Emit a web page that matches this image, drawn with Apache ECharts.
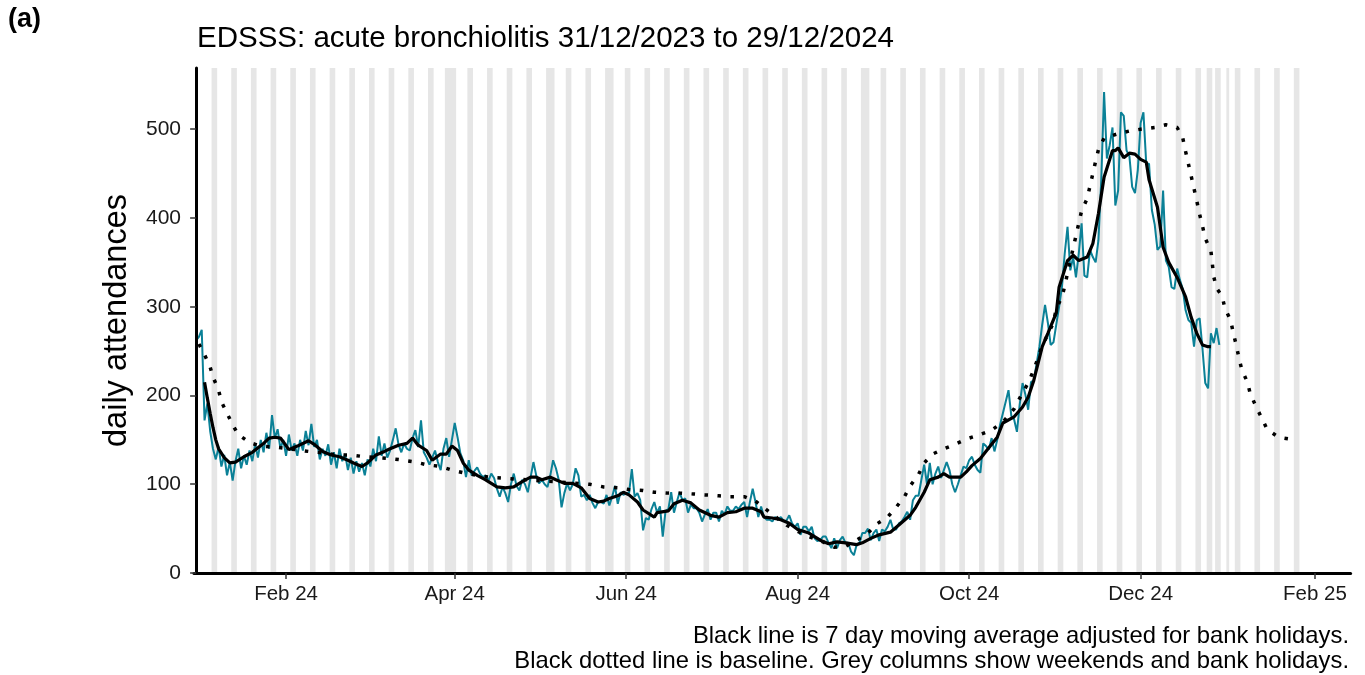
<!DOCTYPE html>
<html>
<head>
<meta charset="utf-8">
<title>EDSSS acute bronchiolitis</title>
<script src="https://cdn.jsdelivr.net/npm/echarts@6/dist/echarts.min.js"></script>
<style>
  html, body { margin: 0; padding: 0; background: #fff; }
  #chart { width: 1365px; height: 675px; }
</style>
</head>
<body>
<div id="chart"></div>
<script>
// x is a day number: day 0 = 31/12/2023 (a Sunday)
const tickDays = [32, 92, 153, 214, 275, 336, 398];
const tickLabels = ['Feb 24', 'Apr 24', 'Jun 24', 'Aug 24', 'Oct 24', 'Dec 24', 'Feb 25'];
const yTicks = [0, 100, 200, 300, 400, 500];
const bankHolidays = [89, 92, 127, 148, 239, 360, 361, 367];

// daily attendances, 31/12/2023 .. 29/12/2024 (one row per week)
const daily = [
  262, 266, 274, 172, 191, 160, 140,
  128, 142, 120, 133, 110, 125, 104,
  126, 140, 118, 132, 122, 138, 126,
  145, 130, 150, 136, 158, 140, 178,
  152, 162, 140, 150, 132, 156, 138,
  146, 132, 150, 138, 160, 144, 168,
  142, 150, 128, 140, 132, 145, 122,
  136, 118, 140, 126, 134, 116, 130,
  112, 126, 114, 124, 110, 128, 120,
  140, 126, 154, 132, 146, 130, 138,
  150, 163, 145, 136, 146, 140, 138,
  152, 161, 142, 172, 136, 130, 122,
  130, 138, 125, 116, 140, 152, 131,
  150, 169, 153, 135, 127, 108, 127,
  110, 115, 119, 112, 108, 110, 104,
  112, 107, 95, 86, 97, 90, 80,
  100, 112, 98, 93, 105, 100, 91,
  108, 125, 110, 101, 105, 100, 97,
  110, 127, 118, 105, 74, 90, 101,
  93, 100, 118, 110, 86, 88, 82,
  88, 79, 73, 80, 80, 78, 88,
  76, 86, 98, 78, 91, 88, 90,
  90, 117, 86, 90, 82, 48, 62,
  60, 72, 80, 68, 75, 41, 70,
  72, 91, 68, 80, 91, 82, 84,
  68, 77, 73, 73, 68, 58, 66,
  72, 60, 68, 68, 58, 70, 66,
  75, 70, 70, 75, 72, 77, 80,
  63, 80, 95, 80, 63, 75, 63,
  60, 60, 58, 63, 60, 63, 59,
  59, 65, 56, 52, 56, 43, 52,
  52, 47, 52, 39, 36, 37, 41,
  41, 34, 28, 39, 28, 37, 41,
  34, 34, 24, 20, 32, 34, 45,
  45, 50, 37, 45, 49, 36, 49,
  47, 52, 60, 49, 49, 56, 58,
  63, 69, 60, 82, 87, 87, 105,
  122, 100, 124, 100, 112, 120, 107,
  116, 125, 116, 100, 91, 100, 110,
  120, 118, 127, 131, 122, 116, 113,
  146, 143, 139, 152, 137, 150, 167,
  180, 193, 206, 177, 173, 159, 190,
  214, 201, 184, 215, 217, 236, 255,
  280, 302, 282, 257, 260, 280, 300,
  322, 360, 390, 341, 356, 333, 360,
  394, 335, 333, 364, 356, 350, 375,
  443, 542, 467, 482, 502, 414, 431,
  519, 515, 476, 470, 435, 428, 454,
  507, 519, 461, 461, 409, 393, 364,
  368, 431, 352, 345, 322, 320, 343,
  330, 320, 296, 285, 282, 255, 285,
  287, 253, 214, 208, 270, 259, 276,
  257
];

// 7 day moving average, [day, value]
const movingAvg = [
  [3, 215], [4, 197], [5, 180], [6, 164], [7, 150], [8, 140], [10, 130], [12, 124],
  [14, 125], [17, 131], [20, 136], [22, 141], [24, 146], [26, 152], [28, 153], [30, 152],
  [31, 148], [33, 139], [36, 143], [40, 149], [42, 145], [45, 137], [48, 133], [51, 131],
  [54, 127], [56, 124], [59, 120], [61, 124], [64, 133], [67, 137], [69, 140], [72, 144],
  [75, 146], [77, 152], [79, 144], [82, 138], [84, 127], [87, 134], [89, 134], [91, 143],
  [93, 138], [95, 124], [97, 116], [100, 110], [103, 105], [107, 97], [110, 96], [113, 97],
  [116, 103], [119, 108], [121, 108], [123, 105], [126, 108], [128, 105], [131, 101], [134, 101],
  [137, 96], [140, 84], [143, 80], [145, 81], [147, 84], [150, 87], [152, 91], [154, 88],
  [157, 80], [159, 71], [163, 63], [164, 68], [168, 70], [170, 78], [173, 82], [176, 79],
  [179, 71], [183, 65], [186, 63], [189, 68], [192, 69], [195, 73], [198, 73], [201, 69],
  [202, 63], [205, 62], [208, 60], [211, 56], [214, 49], [218, 45], [222, 37], [225, 33],
  [228, 35], [231, 34], [235, 32], [237, 34], [240, 39], [243, 43], [247, 46], [250, 54],
  [254, 65], [256, 74], [259, 91], [261, 105], [264, 108], [266, 112], [268, 108], [272, 108],
  [274, 114], [276, 121], [279, 129], [282, 141], [285, 153], [287, 169], [291, 176], [294, 187],
  [296, 198], [298, 217], [301, 255], [303, 270], [306, 293], [307, 322], [310, 352], [312, 358],
  [314, 352], [317, 356], [319, 371], [321, 405], [323, 446], [326, 476], [327, 476], [328, 479],
  [330, 468], [332, 473], [334, 472], [336, 466], [338, 463], [339, 443], [342, 412], [344, 367],
  [346, 350], [349, 333], [352, 311], [354, 288], [356, 270], [358, 257], [360, 255], [361, 255]
];

// baseline, [day, value]
const baseline = [
  [1, 258], [3, 246], [5, 232], [6, 221], [8, 206], [9, 193], [11, 180], [13, 167],
  [15, 156], [19, 147], [23, 143], [28, 142], [33, 140], [40, 137], [46, 135], [50, 133],
  [55, 133], [60, 131], [69, 129], [74, 127], [78, 125], [82, 122], [87, 120], [91, 116],
  [95, 113], [100, 110], [104, 108], [109, 107], [113, 106], [118, 105], [122, 104], [127, 103],
  [140, 100], [145, 97], [150, 96], [154, 94], [159, 93], [163, 91], [168, 90], [172, 90],
  [177, 89], [181, 88], [186, 87], [190, 86], [195, 86], [199, 81], [203, 71], [210, 54],
  [214, 47], [218, 41], [223, 35], [227, 29], [231, 30], [235, 37], [239, 45], [242, 55],
  [246, 63], [249, 74], [252, 86], [254, 98], [257, 111], [259, 124], [262, 134], [266, 140],
  [270, 145], [274, 151], [278, 155], [283, 161], [287, 170], [291, 185], [294, 203], [296, 214],
  [298, 229], [301, 256], [305, 282], [306, 298], [308, 311], [309, 323], [310, 338], [312, 366],
  [313, 380], [314, 394], [315, 408], [317, 422], [318, 436], [319, 450], [320, 464], [321, 477],
  [323, 490], [328, 495], [332, 498], [336, 500], [341, 502], [345, 505], [349, 502], [351, 490],
  [352, 475], [353, 461], [354, 447], [355, 433], [356, 419], [357, 404], [358, 391], [359, 377],
  [361, 363], [361.5, 349], [362, 334], [363, 321], [365, 312], [366, 298], [368, 285], [369, 270],
  [370, 257], [371, 242], [372, 229], [374, 215], [375, 202], [377, 188], [379, 175], [381, 162],
  [385, 153], [389, 151]
];

// grey columns: weekends and bank holidays
const shade = [];
for (let d = 2; d <= 392; d++) {
  const wd = d % 7; // 0 = Sunday, 6 = Saturday
  if (wd === 0 || wd === 6 || bankHolidays.includes(d)) {
    const last = shade[shade.length - 1];
    if (last && last[1] === d - 0.5) last[1] = d + 0.5;
    else shade.push([d - 0.5, d + 0.5]);
  }
}

const font = "'Liberation Sans', Arial, Helvetica, sans-serif";
const chart = echarts.init(document.getElementById('chart'));

chart.setOption({
  animation: false,
  backgroundColor: '#fff',
  textStyle: { fontFamily: font },
  title: {
    text: 'EDSSS: acute bronchiolitis 31/12/2023 to 29/12/2024',
    left: 192,
    top: 19,
    textStyle: { fontSize: 29.5, fontWeight: 'normal', color: '#000', fontFamily: font }
  },
  graphic: [
    { type: 'text', left: 8, top: 6,
      style: { text: '(a)', font: 'bold 27px ' + font, fill: '#000' } },
    { type: 'text', x: 1349, y: 636,
      style: { text: 'Black line is 7 day moving average adjusted for bank holidays.',
               font: '23.8px ' + font, fill: '#000', align: 'right', verticalAlign: 'middle' } },
    { type: 'text', x: 1349, y: 661,
      style: { text: 'Black dotted line is baseline. Grey columns show weekends and bank holidays.',
               font: '23.8px ' + font, fill: '#000', align: 'right', verticalAlign: 'middle' } }
  ],
  grid: { left: 194, top: 68, width: 1156.6, height: 505 },
  xAxis: {
    type: 'value',
    min: -0.75,
    max: 410.7,
    z: 10,
    axisLine: { show: true, onZero: false, lineStyle: { color: '#000', width: 3 } },
    axisTick: { show: true, customValues: tickDays, length: 6, lineStyle: { color: '#333', width: 1.5 } },
    axisLabel: {
      customValues: tickDays,
      formatter: v => tickLabels[tickDays.indexOf(v)],
      fontSize: 20.5, color: '#1a1a1a', margin: 11
    },
    splitLine: { show: false }
  },
  yAxis: {
    type: 'value',
    min: 0,
    max: 569,
    z: 10,
    name: 'daily attendances',
    nameLocation: 'middle',
    nameGap: 60,
    nameRotate: 90,
    nameTextStyle: { fontSize: 32.5, color: '#000' },
    axisLine: { show: true, lineStyle: { color: '#000', width: 3 } },
    axisTick: { show: true, customValues: yTicks, length: 6, lineStyle: { color: '#333', width: 1.5 } },
    axisLabel: { customValues: yTicks, fontSize: 21, color: '#1a1a1a', margin: 13 },
    splitLine: { show: false }
  },
  series: [
    {
      name: 'daily',
      type: 'line',
      data: daily.map((v, i) => [i, v]),
      showSymbol: false,
      z: 2,
      lineStyle: { color: '#0b8197', width: 2 },
      markArea: {
        silent: true,
        itemStyle: { color: '#e6e6e6' },
        data: shade.map(s => [{ xAxis: s[0] }, { xAxis: s[1] }])
      }
    },
    {
      name: 'baseline',
      type: 'line',
      data: baseline,
      showSymbol: false,
      z: 3,
      lineStyle: { color: '#000', width: 3.5, type: [3.5, 9.5] }
    },
    {
      name: 'moving average',
      type: 'line',
      data: movingAvg,
      showSymbol: false,
      z: 4,
      lineStyle: { color: '#000', width: 3.2 }
    }
  ]
});
</script>
</body>
</html>
